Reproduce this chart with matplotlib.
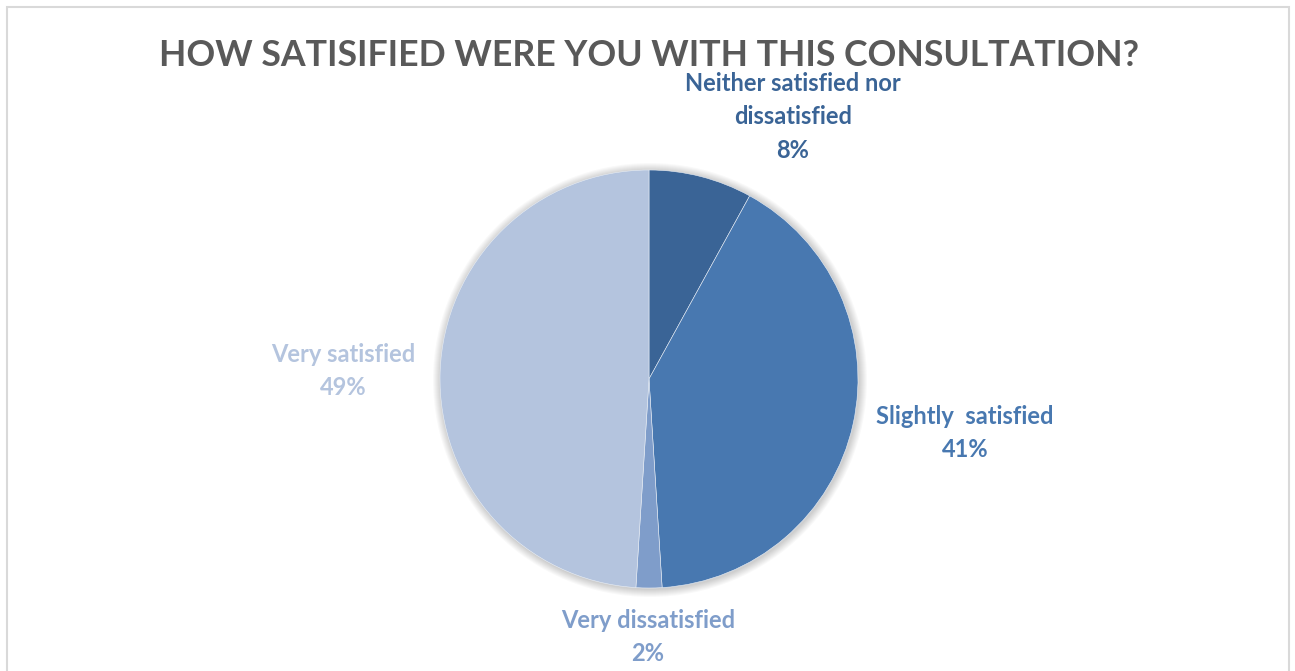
import matplotlib.pyplot as plt
from matplotlib.patches import Circle, Rectangle

# survey answers, clockwise from 12 o'clock
categories = ["Neither satisfied nor\ndissatisfied", "Slightly  satisfied",
              "Very dissatisfied", "Very satisfied"]
shares = [8, 41, 2, 49]
colors = ["#3A6496", "#4878B0", "#7F9DCA", "#B4C4DE"]

# label anchor points (figure pixels, origin bottom-left)
label_xy = [(793, 554), (965, 238), (648, 34), (343, 300)]

W, H = 1295, 671
fig = plt.figure(figsize=(W / 100, H / 100), dpi=100)
ax = fig.add_axes([0, 0, 1, 1])

# chart frame
ax.add_patch(Rectangle((6.5, -10), W - 13, H - 6.5 + 10, fill=False,
                       edgecolor="#D9D9D9", linewidth=1.5))

cx, cy, r = 649, H - 379, 209

# soft shadow under the pie
for i in range(8):
    ax.add_patch(Circle((cx + 1, cy - 1), r + 1 + i, color="#000000",
                        alpha=0.022, linewidth=0, zorder=1))

wedges, _ = ax.pie(shares, colors=colors, startangle=90, counterclock=False,
                   center=(cx, cy), radius=r, frame=True,
                   wedgeprops=dict(linewidth=0.4, edgecolor="#E8EEF6"))
for w in wedges:
    w.set_zorder(2)
ax.set_xlim(0, W)
ax.set_ylim(0, H)
ax.set_aspect("equal")
ax.axis("off")

fonts = ["Lato", "DejaVu Sans"]

ax.text(649, H - 55, "HOW SATISIFIED WERE YOU WITH THIS CONSULTATION?",
        ha="center", va="center", fontsize=25.7, fontweight="bold",
        color="#595959", family=fonts)

for name, pct, col, (x, y) in zip(categories, shares, colors, label_xy):
    ax.text(x, y, f"{name}\n{pct}%", ha="center", va="center",
            fontsize=17, fontweight="bold", color=col, linespacing=1.56,
            family=fonts)

fig.savefig("out.png", dpi=100)
